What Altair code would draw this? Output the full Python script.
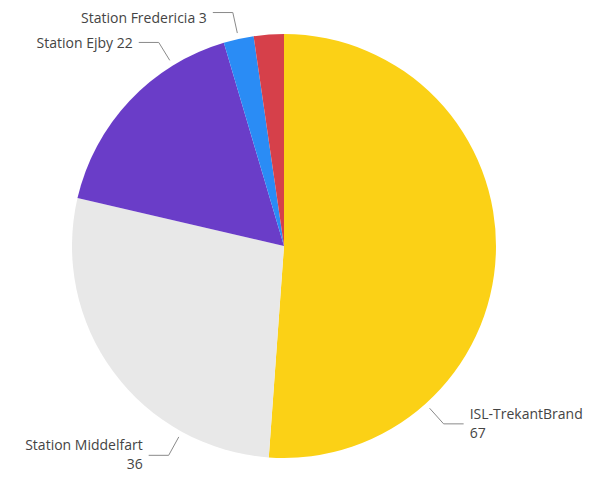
import math
import altair as alt
import pandas as pd

# ---- data ----
categories = ["ISL-TrekantBrand", "Station Middelfart", "Station Ejby", "Station Fredericia", "Other"]
values = [67, 36, 22, 3, 3]
colors = ["#FBD116", "#E8E8E8", "#6A3DC8", "#2A8CF5", "#D6404A"]
show_label = [True, True, True, True, False]

# ---- layout (not data) ----
label_frac = [0.75, 0.25, 0.75, 0.5, 0.5]   # where along its slice each leader line starts
two_line = [True, True, False, False, False]
W, H = 576, 463
CX, CY = 276, 238
R = 212
TOP_MIN = 11  # keep text inside the top edge

df = pd.DataFrame({"cat": categories, "val": values, "idx": list(range(len(values)))})

total = sum(values)
rows_line, rows_text = [], []
cum = 0.0
for i, (c, v) in enumerate(zip(categories, values)):
    a0 = cum / total * 2 * math.pi
    cum += v
    a1 = cum / total * 2 * math.pi
    if not show_label[i]:
        continue
    a = a0 + label_frac[i] * (a1 - a0)
    s, co = math.sin(a), -math.cos(a)
    p0 = (CX + (R + 6) * s, CY + (R + 6) * co)
    p1 = (CX + (R + 27) * s, CY + (R + 27) * co)
    d = 1 if s > 0 else -1
    p2 = (p1[0] + d * 20, p1[1])
    for k, p in enumerate([p0, p1, p2]):
        rows_line.append({"cat": c, "k": k, "x": p[0], "y": p[1]})
    tx = p2[0] + d * 6
    align = "left" if d > 0 else "right"
    if two_line[i]:
        rows_text.append({"x": tx, "y": p2[1] - 9, "t": c, "align": align})
        rows_text.append({"x": tx, "y": p2[1] + 10, "t": str(v), "align": align})
    else:
        rows_text.append({"x": tx, "y": max(p2[1] + 2, TOP_MIN), "t": f"{c} {v}", "align": align})

lines_df = pd.DataFrame(rows_line)
text_df = pd.DataFrame(rows_text)

xs = alt.Scale(domain=[0, W], range=[0, W])
ys = alt.Scale(domain=[0, H], range=[0, H])

pie = alt.Chart(df).mark_arc(outerRadius=R, stroke=None).encode(
    theta=alt.Theta("val:Q", stack=True),
    order=alt.Order("idx:Q"),
    color=alt.Color("cat:N", scale=alt.Scale(domain=categories, range=colors), legend=None),
    x=alt.value(CX),
    y=alt.value(CY),
)

leaders = alt.Chart(lines_df).mark_line(color="#8a8a8a", strokeWidth=1).encode(
    x=alt.X("x:Q", scale=xs, axis=None),
    y=alt.Y("y:Q", scale=ys, axis=None),
    detail="cat:N",
    order="k:Q",
)

def text_layer(al):
    return alt.Chart(text_df[text_df["align"] == al]).mark_text(
        align=al, baseline="middle", font="Open Sans", fontSize=14, color="#444444"
    ).encode(
        x=alt.X("x:Q", scale=xs, axis=None),
        y=alt.Y("y:Q", scale=ys, axis=None),
        text="t:N",
    )

chart = alt.layer(pie, leaders, text_layer("left"), text_layer("right")).properties(
    width=W, height=H, padding=0
).configure_view(stroke=None)

chart.save("out.html", embed_options={"renderer": "svg", "actions": False})
